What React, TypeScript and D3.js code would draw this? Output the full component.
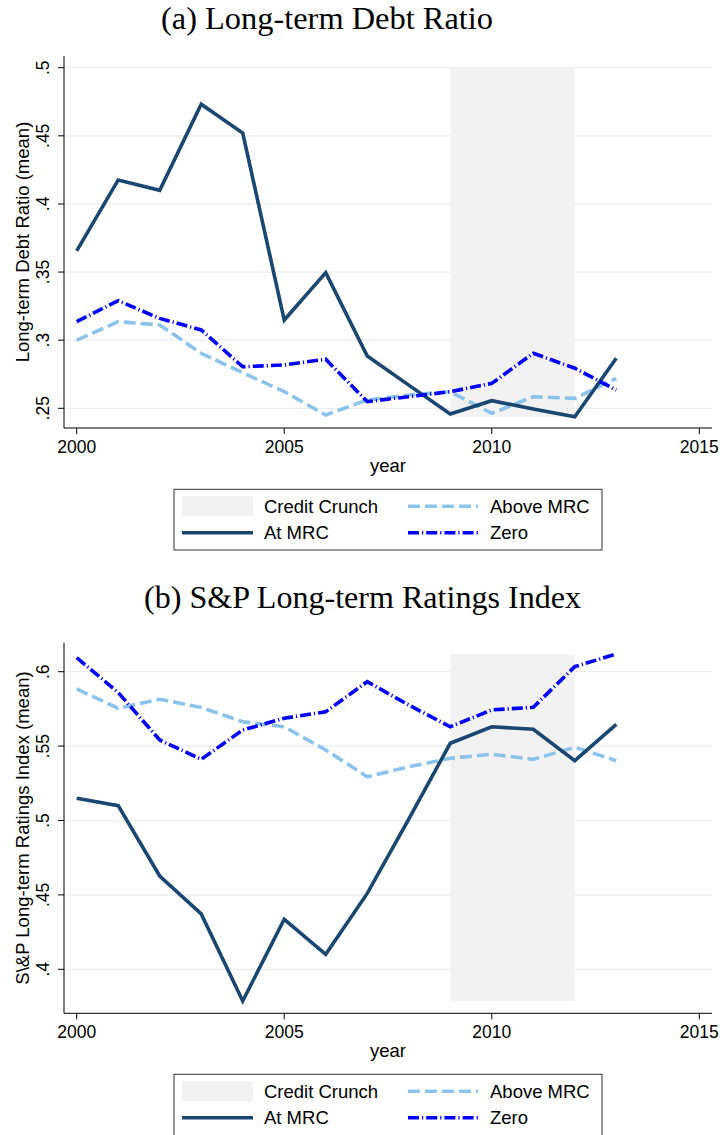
import React from "react";
import * as d3 from "d3";

const years = [2000, 2001, 2002, 2003, 2004, 2005, 2006, 2007, 2008, 2009, 2010, 2011, 2012, 2013];

// Panel (a) Long-term Debt Ratio
const debtAtMRC = [0.3655, 0.4176, 0.41, 0.4732, 0.452, 0.3148, 0.3496, 0.2884, 0.267, 0.2458, 0.2556, 0.2495, 0.2438, 0.2867];
const debtAboveMRC = [0.3, 0.3136, 0.3112, 0.2904, 0.2761, 0.2622, 0.2451, 0.2561, 0.2598, 0.2622, 0.2463, 0.2585, 0.2573, 0.272];
const debtZero = [0.3136, 0.329, 0.316, 0.3075, 0.2805, 0.2818, 0.286, 0.2549, 0.2585, 0.2622, 0.2683, 0.2904, 0.2794, 0.2634];
const debtTicks = [0.25, 0.3, 0.35, 0.4, 0.45, 0.5];
const debtTickLabels = [".25", ".3", ".35", ".4", ".45", ".5"];

// Panel (b) S&P Long-term Ratings Index
const ratAtMRC = [0.5149, 0.51, 0.4627, 0.4372, 0.3787, 0.4336, 0.4101, 0.451, 0.501, 0.5519, 0.563, 0.5613, 0.5402, 0.5646];
const ratAboveMRC = [0.5884, 0.5754, 0.5815, 0.576, 0.5664, 0.563, 0.5474, 0.5294, 0.5361, 0.5418, 0.5445, 0.5411, 0.5492, 0.5402];
const ratZero = [0.6094, 0.586, 0.5541, 0.5411, 0.5608, 0.5687, 0.5731, 0.5933, 0.5776, 0.563, 0.5743, 0.5761, 0.6034, 0.6119];
const ratTicks = [0.4, 0.45, 0.5, 0.55, 0.6];
const ratTickLabels = [".4", ".45", ".5", ".55", ".6"];

const xTicks = [2000, 2005, 2010, 2015];
const crunch = [2009, 2012];

const C_AT = "#1a476f";
const C_ABOVE = "#8cc3ea";
const C_ZERO = "#0000ff";
const C_SHADE = "#f2f2f2";
const C_GRID = "#e6eef1";
const SANS = "Liberation Sans, Arial, sans-serif";
const SERIF = "Liberation Serif, Times New Roman, serif";
const FS = 18.5;
const TFS = 17.5;

type PanelProps = {
  title: string;
  titleX: number;
  titleY: number;
  titleLen: number;
  yLabel: string;
  axisTop: number;
  axisBottom: number;
  yDomain: [number, number];
  yRange: [number, number];
  ticks: number[];
  tickLabels: string[];
  at: number[];
  above: number[];
  zero: number[];
  legendTop: number;
  legendBottom: number;
};

const X0 = 64;
const X1 = 712;

function Panel(p: PanelProps) {
  const x = d3.scaleLinear().domain([2000, 2015]).range([76.7, 699.3]);
  const y = d3.scaleLinear().domain(p.yDomain).range(p.yRange);
  const all = [...p.at, ...p.above, ...p.zero, ...p.ticks];
  const sMin = d3.min(all) as number;
  const sMax = d3.max(all) as number;
  const line = (vals: number[]) =>
    d3.line<number>().x((_, i) => x(years[i])).y((v) => y(v))(vals) as string;
  const midY = (p.axisTop + p.axisBottom) / 2;
  const lt = p.legendTop;
  const row1 = lt + 17;
  const row2 = lt + 43.5;
  return (
    <g>
      <text
        x={p.titleX}
        y={p.titleY}
        fontFamily={SERIF}
        fontSize={31}
        fill="#000"
        textLength={p.titleLen}
        lengthAdjust="spacingAndGlyphs"
      >
        {p.title}
      </text>
      {/* grid */}
      {p.ticks.map((t) => (
        <line key={"g" + t} x1={X0} x2={X1} y1={y(t)} y2={y(t)} stroke={C_GRID} strokeWidth={1.2} />
      ))}
      {/* shading */}
      <rect x={x(crunch[0])} y={y(sMax)} width={x(crunch[1]) - x(crunch[0])} height={y(sMin) - y(sMax)} fill={C_SHADE} />
      <path d={line(p.above)} fill="none" stroke={C_ABOVE} strokeWidth={3.6} strokeDasharray="12,5" />
      <path d={line(p.at)} fill="none" stroke={C_AT} strokeWidth={3.6} strokeLinejoin="miter" />
      <path d={line(p.zero)} fill="none" stroke={C_ZERO} strokeWidth={3.6} strokeDasharray="11,3,1.2,3" />
      {/* axes */}
      <line x1={X0} x2={X0} y1={p.axisTop} y2={p.axisBottom} stroke="#000" strokeWidth={1} />
      <line x1={X0} x2={X1} y1={p.axisBottom} y2={p.axisBottom} stroke="#000" strokeWidth={1} />
      {p.ticks.map((t, i) => (
        <g key={"yt" + t}>
          <line x1={X0 - 6} x2={X0} y1={y(t)} y2={y(t)} stroke="#000" />
          <text
            transform={`translate(48.5,${y(t)}) rotate(-90)`}
            textAnchor="middle"
            fontFamily={SANS}
            fontSize={TFS}
            fill="#000"
          >
            {p.tickLabels[i]}
          </text>
        </g>
      ))}
      {xTicks.map((t) => (
        <g key={"xt" + t}>
          <line x1={x(t)} x2={x(t)} y1={p.axisBottom} y2={p.axisBottom + 6} stroke="#000" />
          <text x={x(t)} y={p.axisBottom + 24.5} textAnchor="middle" fontFamily={SANS} fontSize={TFS} fill="#000">
            {t}
          </text>
        </g>
      ))}
      <text x={388} y={p.axisBottom + 43.5} textAnchor="middle" fontFamily={SANS} fontSize={FS} fill="#000">
        year
      </text>
      <text
        transform={`translate(28.5,${midY}) rotate(-90)`}
        textAnchor="middle"
        fontFamily={SANS}
        fontSize={FS}
        fill="#000"
      >
        {p.yLabel}
      </text>
      {/* legend */}
      <rect x={174} y={lt} width={428} height={p.legendBottom - lt} fill="#fff" stroke="#333" strokeWidth={1} />
      <rect x={182} y={row1 - 10} width={71} height={20} fill={C_SHADE} />
      <text x={264} y={row1 + 6.5} fontFamily={SANS} fontSize={FS} fill="#000">Credit Crunch</text>
      <line x1={408} x2={478} y1={row1} y2={row1} stroke={C_ABOVE} strokeWidth={3.6} strokeDasharray="12,5" />
      <text x={490} y={row1 + 6.5} fontFamily={SANS} fontSize={FS} fill="#000">Above MRC</text>
      <line x1={182} x2={253} y1={row2} y2={row2} stroke={C_AT} strokeWidth={3.6} />
      <text x={264} y={row2 + 6.5} fontFamily={SANS} fontSize={FS} fill="#000">At MRC</text>
      <line x1={408} x2={478} y1={row2} y2={row2} stroke={C_ZERO} strokeWidth={3.6} strokeDasharray="11,3,1.2,3" />
      <text x={490} y={row2 + 6.5} fontFamily={SANS} fontSize={FS} fill="#000">Zero</text>
    </g>
  );
}

export default function App() {
  return (
    <div style={{ position: "absolute", left: 0, top: 0 }}>
      <svg width={722} height={1135} style={{ display: "block", background: "#fff" }}>
        <rect x={0} y={0} width={722} height={1135} fill="#fff" />
        <Panel
          title="(a) Long-term Debt Ratio"
          titleX={161}
          titleY={29}
          titleLen={332}
          yLabel="Long-term Debt Ratio (mean)"
          axisTop={56}
          axisBottom={428}
          yDomain={[0.25, 0.5]}
          yRange={[408.3, 67.7]}
          ticks={debtTicks}
          tickLabels={debtTickLabels}
          at={debtAtMRC}
          above={debtAboveMRC}
          zero={debtZero}
          legendTop={489.3}
          legendBottom={550}
        />
        <Panel
          title="(b) S&P Long-term Ratings Index"
          titleX={144}
          titleY={608}
          titleLen={437}
          yLabel="S\&P Long-term Ratings Index (mean)"
          axisTop={642.7}
          axisBottom={1013.3}
          yDomain={[0.4, 0.6]}
          yRange={[969.3, 671.7]}
          ticks={ratTicks}
          tickLabels={ratTickLabels}
          at={ratAtMRC}
          above={ratAboveMRC}
          zero={ratZero}
          legendTop={1074.3}
          legendBottom={1135.5}
        />
      </svg>
    </div>
  );
}
